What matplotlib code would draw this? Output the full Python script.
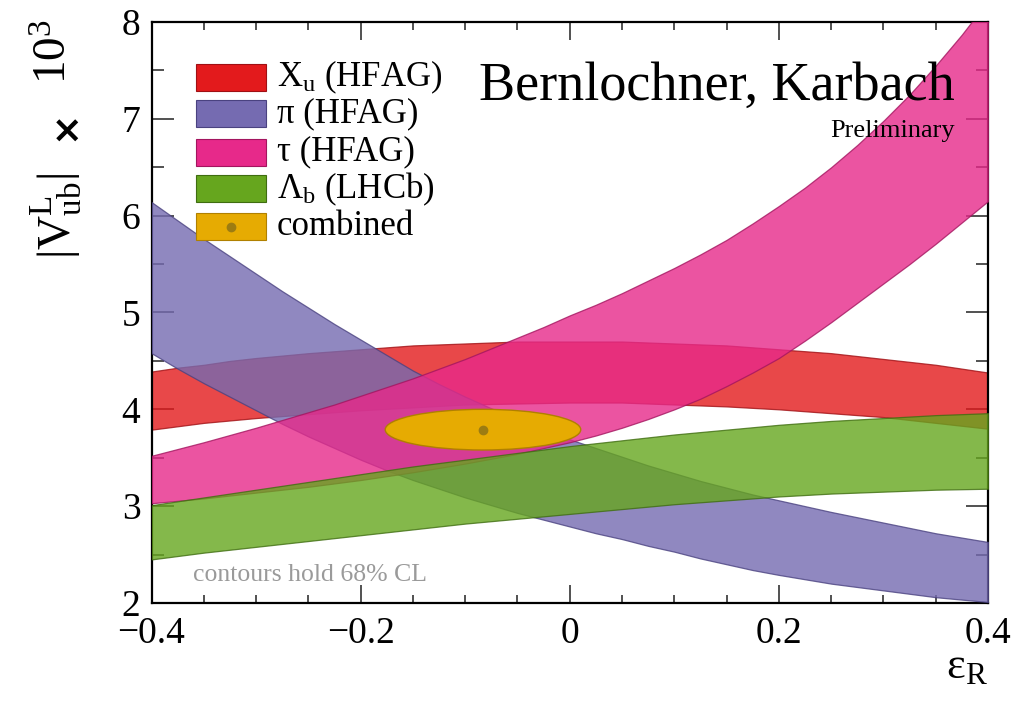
import matplotlib
matplotlib.use("Agg")
import matplotlib.pyplot as plt
from matplotlib.patches import Ellipse, Rectangle
from matplotlib.ticker import MultipleLocator, FixedLocator, FuncFormatter

plt.rcParams['font.family'] = ['Liberation Serif', 'DejaVu Serif']
plt.rcParams['mathtext.fontset'] = 'custom'
plt.rcParams['mathtext.rm'] = 'Liberation Serif'
plt.rcParams['mathtext.it'] = 'Liberation Serif:italic'
plt.rcParams['mathtext.bf'] = 'Liberation Serif:bold'

# epsilon_R grid on which the 68% CL band edges are given
eps_r = [-0.400, -0.375, -0.350, -0.325, -0.300, -0.275, -0.250, -0.225,
         -0.200, -0.175, -0.150, -0.125, -0.100, -0.075, -0.050, -0.025,
         0.000, 0.025, 0.050, 0.075, 0.100, 0.125, 0.150, 0.175,
         0.200, 0.225, 0.250, 0.275, 0.300, 0.325, 0.350, 0.375, 0.400]

# |V_ub^L| x 10^3 band edges
xu_hi = [4.39, 4.43, 4.46, 4.50, 4.53, 4.555, 4.58, 4.60,
         4.62, 4.64, 4.66, 4.67, 4.68, 4.69, 4.70, 4.70,
         4.70, 4.70, 4.70, 4.69, 4.68, 4.67, 4.66, 4.64,
         4.62, 4.60, 4.58, 4.55, 4.52, 4.49, 4.46, 4.42, 4.38]
xu_lo = [3.79, 3.825, 3.86, 3.885, 3.91, 3.93, 3.95, 3.97,
         3.99, 4.005, 4.02, 4.035, 4.05, 4.055, 4.06, 4.065,
         4.07, 4.07, 4.07, 4.06, 4.05, 4.04, 4.03, 4.015,
         4.00, 3.98, 3.96, 3.94, 3.92, 3.89, 3.86, 3.83, 3.80]

pi_hi = [6.14, 5.95, 5.76, 5.58, 5.40, 5.22, 5.05, 4.88,
         4.72, 4.56, 4.40, 4.26, 4.13, 4.01, 3.90, 3.79,
         3.69, 3.60, 3.51, 3.42, 3.34, 3.26, 3.19, 3.12,
         3.06, 3.00, 2.94, 2.885, 2.83, 2.775, 2.72, 2.675, 2.63]
pi_lo = [4.58, 4.42, 4.27, 4.13, 3.99, 3.85, 3.72, 3.60,
         3.48, 3.37, 3.27, 3.18, 3.09, 3.01, 2.93, 2.86,
         2.79, 2.72, 2.66, 2.59, 2.53, 2.46, 2.40, 2.34,
         2.29, 2.245, 2.20, 2.165, 2.13, 2.095, 2.06, 2.035, 2.01]

tau_hi = [3.52, 3.59, 3.66, 3.735, 3.81, 3.89, 3.97, 4.05,
          4.14, 4.23, 4.32, 4.42, 4.52, 4.63, 4.74, 4.85,
          4.97, 5.08, 5.20, 5.33, 5.46, 5.60, 5.75, 5.92,
          6.10, 6.29, 6.50, 6.73, 6.98, 7.25, 7.55, 7.87, 8.22]
tau_lo = [3.03, 3.055, 3.08, 3.11, 3.14, 3.17, 3.20, 3.235,
          3.27, 3.31, 3.35, 3.395, 3.44, 3.49, 3.54, 3.60,
          3.66, 3.73, 3.81, 3.90, 4.00, 4.11, 4.24, 4.38,
          4.53, 4.71, 4.90, 5.10, 5.30, 5.50, 5.71, 5.93, 6.15]

lb_hi = [3.01, 3.05, 3.09, 3.13, 3.17, 3.21, 3.25, 3.29,
         3.33, 3.37, 3.41, 3.445, 3.48, 3.515, 3.55, 3.585,
         3.62, 3.65, 3.68, 3.71, 3.74, 3.765, 3.79, 3.815,
         3.84, 3.86, 3.88, 3.895, 3.91, 3.925, 3.94, 3.95, 3.96]
lb_lo = [2.45, 2.485, 2.52, 2.55, 2.58, 2.61, 2.64, 2.67,
         2.70, 2.73, 2.76, 2.79, 2.82, 2.845, 2.87, 2.895,
         2.92, 2.945, 2.97, 2.995, 3.02, 3.04, 3.06, 3.08,
         3.10, 3.115, 3.13, 3.14, 3.15, 3.16, 3.17, 3.175, 3.18]

# combined fit: central value and 68% CL ellipse
comb_eps, comb_vub = -0.083, 3.79
comb_width, comb_height = 0.187, 0.42

labels = ['X$_{\\mathrm{u}}$ (HFAG)', 'π (HFAG)', 'τ (HFAG)',
          'Λ$_{\\mathrm{b}}$ (LHCb)', 'combined']
colors = ['#e31a1c', '#756bb1', '#e7298a', '#66a61e', '#e6ab02']
edges = ['#a01014', '#4a4280', '#a3155f', '#3f6d10', '#b08000']

fig = plt.figure(figsize=(10.35, 7.05), dpi=100)
ax = fig.add_axes([0.1464, 0.1447, 0.8082, 0.8241])

bands = [(xu_lo, xu_hi), (pi_lo, pi_hi), (tau_lo, tau_hi), (lb_lo, lb_hi)]
for k, (lo, hi) in enumerate(bands):
    ax.fill_between(eps_r, lo, hi, facecolor=colors[k], edgecolor=edges[k],
                    alpha=0.8, lw=0.9, zorder=2 + k)

ell = Ellipse((comb_eps, comb_vub), comb_width, comb_height,
              facecolor=colors[4], edgecolor=edges[4], lw=1.0, zorder=10)
ax.add_patch(ell)
ax.plot([comb_eps], [comb_vub], 'o', ms=6, color='#9c7c12', zorder=11)

ax.set_xlim(-0.4, 0.4)
ax.set_ylim(2, 8)

# legend drawn by hand in axes coordinates
row_y = [0.9053, 0.8417, 0.7762, 0.7126, 0.6472]
sw_x, sw_w, sw_h = 0.0532, 0.0837, 0.0465
for k in range(5):
    ax.add_patch(Rectangle((sw_x, row_y[k] - sw_h / 2), sw_w, sw_h,
                           transform=ax.transAxes, facecolor=colors[k],
                           edgecolor=edges[k], lw=0.8, zorder=20))
    ax.text(0.150, row_y[k], labels[k], transform=ax.transAxes,
            fontsize=25, ha='left', va='center', zorder=20)
ax.plot([sw_x + sw_w / 2], [row_y[4]], 'o', ms=6, color='#9c7c12',
        transform=ax.transAxes, zorder=21)

ax.text(0.9605, 0.8657, 'Bernlochner, Karbach', transform=ax.transAxes,
        fontsize=39, ha='right', va='baseline', zorder=20)
ax.text(0.9605, 0.8026, 'Preliminary', transform=ax.transAxes,
        fontsize=19, ha='right', va='baseline', zorder=20)
ax.text(0.0496, 0.048, 'contours hold 68% CL', transform=ax.transAxes,
        fontsize=18.5, ha='left', va='center', color='#9a9a9a', zorder=20)

# ROOT-like axes: ticks inside on all sides
ax.xaxis.set_major_locator(FixedLocator([-0.4, -0.2, 0.0, 0.2, 0.4]))
ax.xaxis.set_minor_locator(MultipleLocator(0.05))
ax.yaxis.set_major_locator(MultipleLocator(1))
ax.yaxis.set_minor_locator(MultipleLocator(0.5))
ax.xaxis.set_major_formatter(FuncFormatter(
    lambda v, p: '0' if abs(v) < 1e-9 else ('%.1f' % v).replace('-', '\u2212')))
ax.yaxis.set_major_formatter(FuncFormatter(lambda v, p: '%d' % v))
ax.tick_params(which='both', direction='in', top=True, right=True,
               labelsize=27, width=1.1, color='#222222')
ax.tick_params(axis='x', which='major', length=13, pad=10)
ax.tick_params(axis='x', which='minor', length=6)
ax.tick_params(axis='y', which='major', length=16, pad=8)
ax.tick_params(axis='y', which='minor', length=8.5)
for sp in ax.spines.values():
    sp.set_linewidth(1.6)

# y-axis title in three pieces so the multiplication sign can be heavier
fig.text(56 / 1035, 1 - 216 / 705, '|V$^{\\mathrm{L}}_{\\mathrm{ub}}$|',
         rotation=90, fontsize=34, ha='center', va='center')
fig.text(66 / 1035, 1 - 125 / 705, '×', family='DejaVu Sans',
         weight='bold', rotation=90, fontsize=27, ha='center', va='center')
fig.text(55 / 1035, 1 - 52 / 705, '10$^{3}$',
         rotation=90, fontsize=34, ha='center', va='center')
fig.text(967 / 1035, 1 - 667 / 705, 'ε$_{\\mathrm{R}}$',
         fontsize=32, ha='center', va='center')

fig.savefig('out.png', dpi=100)
